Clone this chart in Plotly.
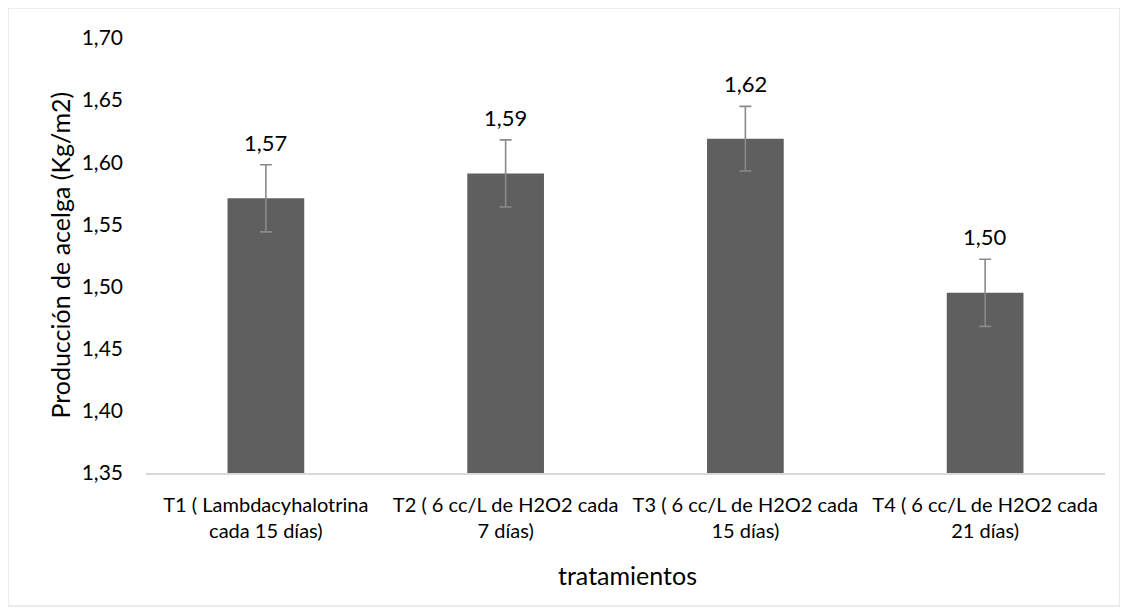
import plotly.graph_objects as go

categories = [
    "T1 ( Lambdacyhalotrina<br>cada 15 días)",
    "T2 ( 6 cc/L de H2O2 cada<br>7 días)",
    "T3 ( 6 cc/L de H2O2 cada<br>15 días)",
    "T4 ( 6 cc/L de H2O2 cada<br>21 días)",
]
values = [1.571, 1.591, 1.619, 1.495]
errors = [0.027, 0.027, 0.026, 0.027]
tick_vals = [1.35, 1.40, 1.45, 1.50, 1.55, 1.60, 1.65, 1.70]
x_title = "tratamientos"
y_title = "Producción de acelga (Kg/m2)"

FONT = "Lato, 'Open Sans', sans-serif"

fig = go.Figure()
fig.add_trace(go.Bar(
    x=categories,
    y=values,
    marker=dict(color="#5f5f5f", line=dict(width=0)),
    error_y=dict(type="data", array=errors, visible=True,
                 color="#8a8a8a", thickness=1.6, width=6),
    width=0.32,
    showlegend=False,
))

for c, v, e in zip(categories, values, errors):
    fig.add_annotation(
        x=c, y=v + e, xref="x", yref="y",
        text=f"{v:.2f}".replace(".", ","),
        showarrow=False, yanchor="bottom", yshift=7,
        font=dict(family=FONT, size=22, color="#000000"),
    )

# axis titles
fig.add_annotation(x=0.502, y=-0.2345, xref="paper", yref="paper",
                   text=x_title, showarrow=False, xanchor="center", yanchor="middle",
                   font=dict(family=FONT, size=25, color="#000000"))
fig.add_annotation(x=-0.0897, y=0.502, xref="paper", yref="paper",
                   text=y_title, showarrow=False, textangle=-90,
                   xanchor="center", yanchor="middle",
                   font=dict(family=FONT, size=25, color="#000000"))

fig.add_shape(type="rect", xref="paper", yref="paper",
              x0=-0.1439, x1=1.0156, y0=-0.3057, y1=1.069,
              line=dict(color="#d9d9d9", width=1), fillcolor="rgba(0,0,0,0)",
              layer="below")

fig.update_layout(
    width=1120, height=607,
    margin=dict(l=138, r=23, t=30, b=142),
    paper_bgcolor="white", plot_bgcolor="white",
    separators=",.",
    font=dict(family=FONT, size=20, color="#000000"),
    xaxis=dict(
        showline=True, linecolor="#d9d9d9", linewidth=1.5,
        ticks="", showgrid=False,
        ticklabelstandoff=13,
        tickfont=dict(family=FONT, size=20, color="#000000"),
    ),
    yaxis=dict(
        range=[1.35, 1.70], tickvals=tick_vals, tickformat=".2f",
        showgrid=False, zeroline=False, showline=False, ticks="",
        ticklabelstandoff=22,
        tickfont=dict(family=FONT, size=21, color="#000000"),
    ),
    bargap=0.68,
)

fig.write_html("out.html")
